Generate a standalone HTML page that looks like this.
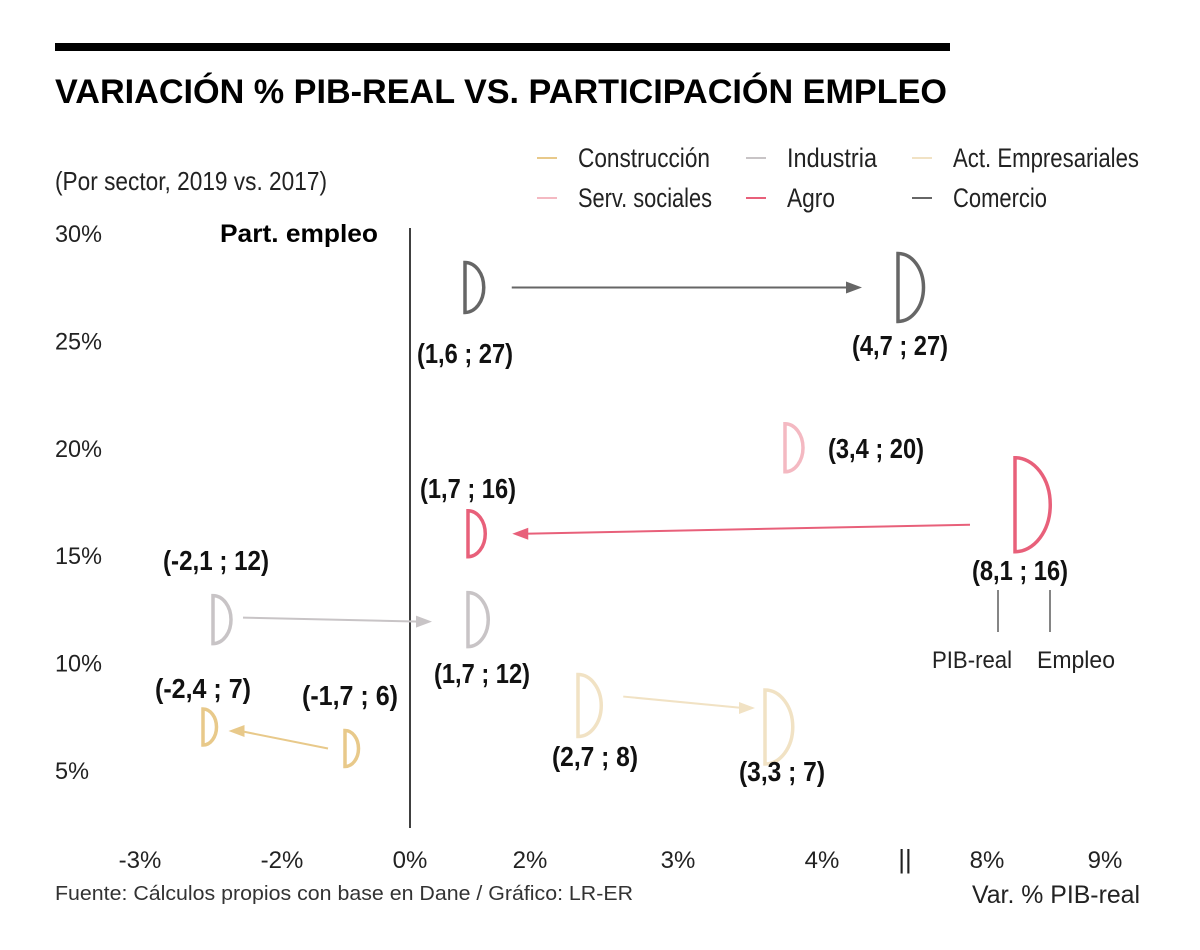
<!DOCTYPE html>
<html><head><meta charset="utf-8">
<style>
html,body{margin:0;padding:0;background:#fff;}
svg{display:block;font-family:"Liberation Sans Narrow","Liberation Sans",sans-serif;}
</style></head>
<body>
<svg id="chart" width="1200" height="950" viewBox="0 0 1200 950">
<rect x="55" y="43" width="895" height="8" fill="#000"/>
<text x="55" y="103" font-size="34" font-weight="bold" textLength="892" lengthAdjust="spacingAndGlyphs" fill="#000">VARIACIÓN % PIB-REAL VS. PARTICIPACIÓN EMPLEO</text>
<text x="55" y="190" font-size="26" textLength="272" lengthAdjust="spacingAndGlyphs" fill="#222">(Por sector, 2019 vs. 2017)</text>
<line x1="410" y1="228" x2="410" y2="828" stroke="#000" stroke-width="1.5"/>
<text x="220" y="242" font-size="25" font-weight="bold" textLength="158" lengthAdjust="spacingAndGlyphs">Part. empleo</text>
<text x="1140" y="903" font-size="25" text-anchor="end" textLength="168" lengthAdjust="spacingAndGlyphs" fill="#222">Var. % PIB-real</text>
<text x="55" y="900" font-size="20" textLength="578" lengthAdjust="spacingAndGlyphs" fill="#333">Fuente: Cálculos propios con base en Dane / Gráfico: LR-ER</text>
<text x="905" y="868" font-size="26" text-anchor="middle" fill="#222">||</text>
<g>
<line x1="998" y1="590" x2="998" y2="632" stroke="#333" stroke-width="1.2"/>
<line x1="1050" y1="590" x2="1050" y2="632" stroke="#333" stroke-width="1.2"/>
<text x="972" y="668" font-size="24" text-anchor="middle" textLength="80" lengthAdjust="spacingAndGlyphs" fill="#222">PIB-real</text>
<text x="1076" y="668" font-size="24" text-anchor="middle" textLength="78" lengthAdjust="spacingAndGlyphs" fill="#222">Empleo</text>
</g>
<g id="legend"></g>
<g id="axes"></g>
<g id="marks"></g>
</svg>
<script>
const NS="http://www.w3.org/2000/svg";
// ---- data ----
const sectors=["Construcción","Industria","Act. Empresariales","Serv. sociales","Agro","Comercio"];
const sectorColors=["#e8c98a","#c8c4c6","#f1e2c4","#f4b9c2","#e8607a","#666666"];
const pib2017=[-1.7,-2.1,2.7,null,8.1,1.6];
const emp2017=[6,12,8,null,16,27];
const pib2019=[-2.4,1.7,3.3,3.4,1.7,4.7];
const emp2019=[7,12,7,20,16,27];
const yTickValues=[30,25,20,15,10,5];
const xTickLabels=["-3%","-2%","0%","2%","3%","4%","8%","9%"];
// ---- layout (styles / positions) ----
const xTickPx=[140,282,410,530,678,822,987,1105];
const knotVals=[-3,-2.4,-2.1,-1.7,0,1.6,1.7,2.7,3.3,3.4,4.7,8.1,9];
const knotPx=[140,203,213,345,410,465,468,578,765,785,898,1015,1105];
const legendWidths=[132,90,186,134,48,94];
const r2017=[18,24,31,null,47,25];
const r2019=[18,27,37,24,23,34];
const dy2017=[0,0,0,null,-29,-10];
const dy2019=[0,0,0,0,0,-10];
const arrowDyStart=[0,-2,-9,null,-9,-10];
const arrowDyEnd=[4,2,-19,null,0,-10];
const arrowGapStart=[17,12,22,null,45,28];
const arrowGapEnd=[12,36,10,null,27,36];
const lab2017=[[350,705,"middle"],[216,570,"middle"],[595,766,"middle"],null,[1020,580,"middle"],[465,363,"middle"]];
const lab2019=[[203,698,"middle"],[482,683,"middle"],[782,781,"middle"],[876,458,"middle"],[468,498,"middle"],[900,355,"middle"]];
function x(v){for(let i=1;i<knotVals.length;i++){if(v<=knotVals[i]){const t=(v-knotVals[i-1])/(knotVals[i]-knotVals[i-1]);return knotPx[i-1]+t*(knotPx[i]-knotPx[i-1]);}}return knotPx[knotPx.length-1];}
function y(v){return 233+(30-v)*21.48;}
function fmt(v){return String(v).replace(".",",");}
function mk(tag,attrs,parent){const e=document.createElementNS(NS,tag);for(const k in attrs)e.setAttribute(k,attrs[k]);parent.appendChild(e);return e;}
const axes=document.getElementById("axes"),marks=document.getElementById("marks"),legend=document.getElementById("legend");
yTickValues.forEach(v=>{const s=v+"%";const t=mk("text",{x:55,y:y(v)+9,"font-size":24,fill:"#222",textLength:s.length===2?34:47,lengthAdjust:"spacingAndGlyphs"},axes);t.textContent=s;

});
xTickLabels.forEach((s,i)=>{const t=mk("text",{x:xTickPx[i],y:868,"font-size":24,"text-anchor":"middle",fill:"#222"},axes);t.textContent=s;

});
const legX=[537,746,912],legY=[158,198];
sectors.forEach((s,i)=>{const cx=legX[i%3],cy=legY[Math.floor(i/3)];
const l=mk("line",{x1:cx,y1:cy,x2:cx+20,y2:cy,stroke:sectorColors[i],"stroke-width":2},legend);


const t=mk("text",{x:cx+41,y:cy+9,"font-size":27,fill:"#222"},legend);t.textContent=s;
t.setAttribute('textLength',legendWidths[i]);
t.setAttribute('lengthAdjust','spacingAndGlyphs');

});
function half(px,py,r,c){return mk("path",{d:`M${px},${py-r} A${r*0.75},${r} 0 0 1 ${px},${py+r} Z`,fill:"none",stroke:c,"stroke-width":3.5},marks);}
function label(px,py,anchor,s){const t=mk("text",{x:px,y:py,"font-size":28,"font-weight":"bold","text-anchor":anchor,fill:"#111"},marks);t.textContent=s;
t.setAttribute('textLength',Math.round(s.length*9.6));
t.setAttribute('lengthAdjust','spacingAndGlyphs');

}
sectors.forEach((s,i)=>{const c=sectorColors[i];
const bx=x(pib2019[i]),by=y(emp2019[i]);
const p2=half(bx,by+dy2019[i],r2019[i],c);


label(lab2019[i][0],lab2019[i][1],lab2019[i][2],"("+fmt(pib2019[i])+" ; "+emp2019[i]+")");
if(pib2017[i]!==null){const ax=x(pib2017[i]),ay=y(emp2017[i]);
const p1=half(ax,ay+dy2017[i],r2017[i],c);


label(lab2017[i][0],lab2017[i][1],lab2017[i][2],"("+fmt(pib2017[i])+" ; "+emp2017[i]+")");
let sx,ex;
if(bx>ax){sx=ax+r2017[i]*0.75+arrowGapStart[i];ex=bx-arrowGapEnd[i];}
else{sx=ax-arrowGapStart[i];ex=bx+r2019[i]*0.75+arrowGapEnd[i];}
const ya=ay+arrowDyStart[i], yb=by+arrowDyEnd[i];
const dir=Math.sign(ex-sx);
const ln=mk("line",{x1:sx,y1:ya,x2:ex-dir*12,y2:yb,stroke:c,"stroke-width":2},marks);


const hd=mk("path",{d:`M${ex},${yb} L${ex-dir*16},${yb-6} L${ex-dir*16},${yb+6} Z`,fill:c},marks);

}
});
</script>
</body></html>
